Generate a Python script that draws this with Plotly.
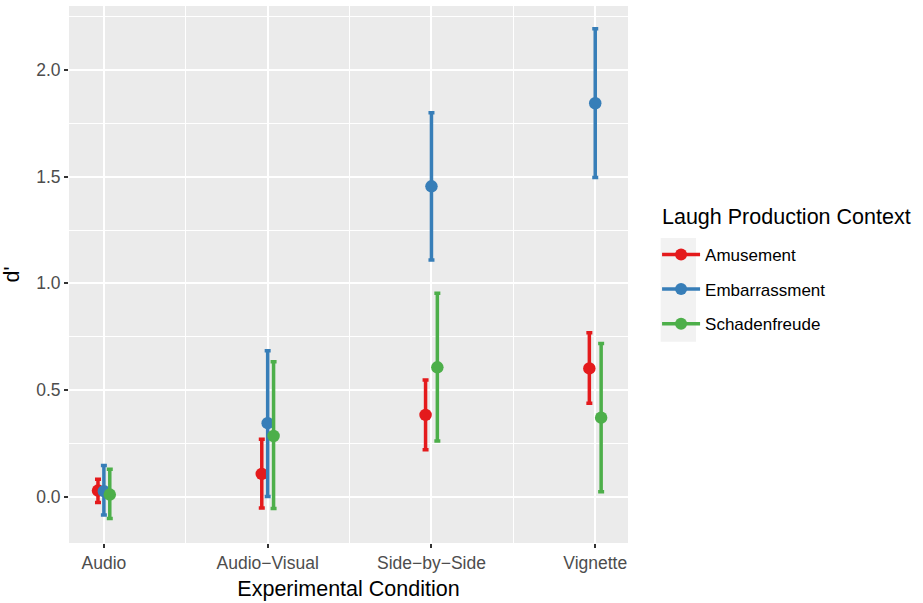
import plotly.graph_objects as go

conditions = ["Audio", "Audio\u2212Visual", "Side\u2212by\u2212Side", "Vignette"]
series_names = ["Amusement", "Embarrassment", "Schadenfreude"]
colors = ["#E41A1C", "#377EB8", "#4DAF4A"]

amusement_mean = [0.028, 0.106, 0.383, 0.601]
amusement_low = [-0.028, -0.054, 0.219, 0.437]
amusement_high = [0.081, 0.269, 0.547, 0.768]

embarrassment_mean = [0.025, 0.344, 1.455, 1.845]
embarrassment_low = [-0.087, 0.000, 1.109, 1.496]
embarrassment_high = [0.145, 0.684, 1.800, 2.194]

schadenfreude_mean = [0.009, 0.284, 0.606, 0.370]
schadenfreude_low = [-0.103, -0.056, 0.260, 0.022]
schadenfreude_high = [0.128, 0.632, 0.953, 0.718]

means = [amusement_mean, embarrassment_mean, schadenfreude_mean]
lows = [amusement_low, embarrassment_low, schadenfreude_low]
highs = [amusement_high, embarrassment_high, schadenfreude_high]
dodge = [-0.036, 0.0, 0.036]

fig = go.Figure()
for i, name in enumerate(series_names):
    xs = [k + dodge[i] for k in range(len(conditions))]
    fig.add_trace(go.Scatter(
        x=xs, y=means[i], mode="markers", showlegend=False,
        marker=dict(color=colors[i], size=12.5),
        error_y=dict(type="data", symmetric=False,
                     array=[h - m for h, m in zip(highs[i], means[i])],
                     arrayminus=[m - l for m, l in zip(means[i], lows[i])],
                     color=colors[i], thickness=3.5, width=3),
        hoverinfo="skip"))
for i, name in enumerate(series_names):
    fig.add_trace(go.Scatter(
        x=[None], y=[None], mode="lines+markers", name=name,
        legendgroup=name, showlegend=True,
        line=dict(color=colors[i], width=3.5),
        marker=dict(color=colors[i], size=12)))

font_family = "Liberation Sans, Arial, sans-serif"

fig.update_layout(
    width=923, height=603,
    margin=dict(l=69, r=295, t=6, b=60, autoexpand=False),
    paper_bgcolor="white",
    plot_bgcolor="#EBEBEB",
    font=dict(family=font_family, color="#000000"),
    legend=dict(
        font=dict(size=17, color="#000000"),
        x=1.052, xanchor="left", y=0.57, yanchor="top",
        bgcolor="rgba(0,0,0,0)", traceorder="grouped", tracegroupgap=9.5,
        itemwidth=38),
    shapes=[dict(type="rect", xref="paper", yref="paper",
                 x0=1.0585, x1=1.1217, y0=0.375, y1=0.568,
                 fillcolor="#F2F2F2", line=dict(width=0), layer="below")],
    annotations=[dict(text="Laugh Production Context", xref="paper", yref="paper",
                      x=1.0573, y=0.6075, xanchor="left", yanchor="middle",
                      showarrow=False, font=dict(size=21.5, color="#000000"))],
)

fig.update_xaxes(
    range=[-0.213, 3.2], tickmode="array",
    tickvals=list(range(len(conditions))), ticktext=conditions,
    showgrid=True, gridcolor="white", gridwidth=1.6,
    minor=dict(tickmode="array", tickvals=[0.5, 1.5, 2.5], showgrid=True,
               gridcolor="white", gridwidth=0.8, ticks=""),
    ticks="outside", ticklen=4, tickwidth=1.5, tickcolor="#333333",
    tickfont=dict(size=17.5, color="#4D4D4D"),
    zeroline=False, showline=False,
    title=dict(text="Experimental Condition", font=dict(size=21.5, color="#000000"), standoff=8),
)
fig.update_yaxes(
    range=[-0.218, 2.301], tickmode="array",
    tickvals=[0, 0.5, 1.0, 1.5, 2.0], ticktext=["0.0", "0.5", "1.0", "1.5", "2.0"],
    showgrid=True, gridcolor="white", gridwidth=1.6,
    minor=dict(tickmode="array", tickvals=[-0.25, 0.25, 0.75, 1.25, 1.75, 2.25], showgrid=True,
               gridcolor="white", gridwidth=0.8, ticks=""),
    ticks="outside", ticklen=4, tickwidth=1.5, tickcolor="#333333",
    tickfont=dict(size=17.5, color="#4D4D4D"),
    zeroline=False, showline=False,
    title=dict(text="d'", font=dict(size=21.5, color="#000000"), standoff=10),
)

fig.write_html("out.html", config={"displayModeBar": False},
               post_script="document.body.style.margin='0px';document.body.style.overflow='hidden';")
